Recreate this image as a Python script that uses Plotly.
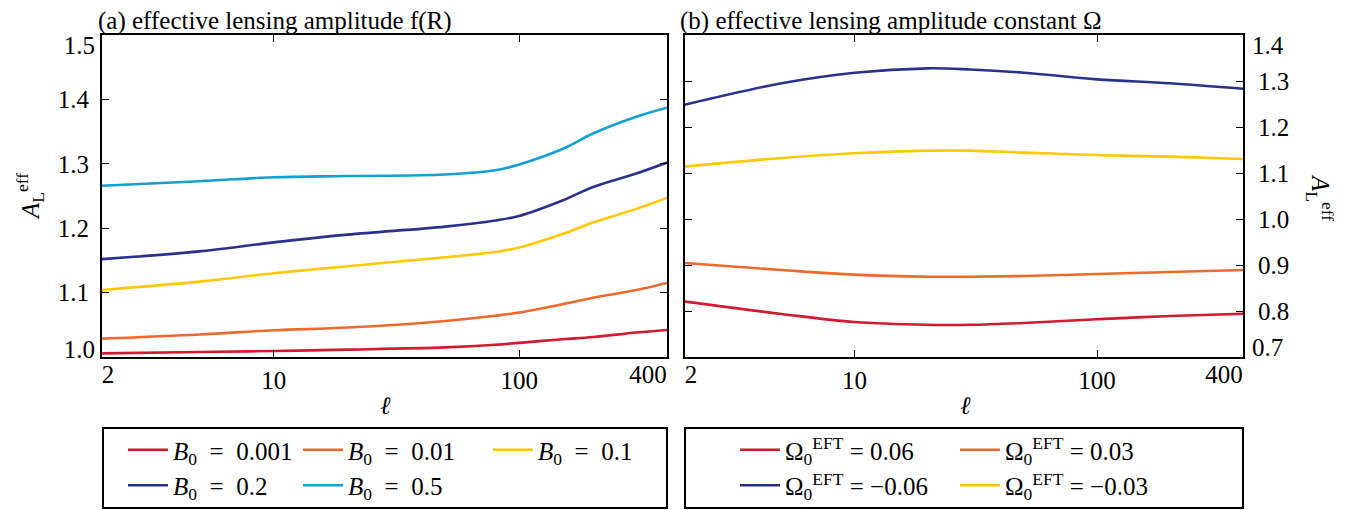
import math
import plotly.graph_objects as go

# ---------------- data ----------------
ell_a = [2, 5, 10, 20, 50, 80, 100, 150, 200, 300, 400]
fr_B0_0001 = [1.0057, 1.0078, 1.0093, 1.0114, 1.0150, 1.0190, 1.0220, 1.0275, 1.0310, 1.0380, 1.0420]
fr_B0_001 = [1.0286, 1.0350, 1.0415, 1.0457, 1.0560, 1.0640, 1.0690, 1.0820, 1.0920, 1.1040, 1.1150]
fr_B0_01 = [1.1040, 1.1170, 1.1300, 1.1410, 1.1550, 1.1630, 1.1700, 1.1910, 1.2090, 1.2300, 1.2470]
fr_B0_02 = [1.1520, 1.1640, 1.1780, 1.1900, 1.2025, 1.2120, 1.2190, 1.2430, 1.2640, 1.2850, 1.3020]
fr_B0_05 = [1.2660, 1.2730, 1.2790, 1.2810, 1.2835, 1.2900, 1.2990, 1.3230, 1.3470, 1.3730, 1.3870]

ell_b = [2, 5, 10, 20, 30, 50, 100, 200, 400]
om_p006 = [0.8203, 0.7935, 0.7760, 0.7700, 0.7700, 0.7740, 0.7820, 0.7890, 0.7940]
om_p003 = [0.9043, 0.8890, 0.8790, 0.8746, 0.8746, 0.8760, 0.8804, 0.8848, 0.8890]
om_m006 = [1.2486, 1.2950, 1.3180, 1.3275, 1.3250, 1.3180, 1.3036, 1.2950, 1.2830]
om_m003 = [1.1138, 1.1326, 1.1428, 1.1486, 1.1486, 1.1442, 1.1390, 1.1355, 1.1304]

x_tickvals = [2, 10, 100, 400]
x_ticktext = ["2", "10", "100", "400"]
ya_ticks = [1.0, 1.1, 1.2, 1.3, 1.4, 1.5]
yb_ticks = [0.7, 0.8, 0.9, 1.0, 1.1, 1.2, 1.3, 1.4]

RED, ORANGE, YELLOW, NAVY, CYAN = "#d2192f", "#ec6a2c", "#ffc800", "#28328c", "#139fd0"
FONT = "Liberation Serif"
FS = 25
W, H = 1353, 510
OFF = 8  # page body margin
SP = "\u2002"

fig = go.Figure()

series_a = [
    (fr_B0_0001, RED, "0.001", "legend"),
    (fr_B0_001, ORANGE, "0.01", "legend2"),
    (fr_B0_01, YELLOW, "0.1", "legend3"),
    (fr_B0_02, NAVY, "0.2", "legend"),
    (fr_B0_05, CYAN, "0.5", "legend2"),
]
for vals, col, lab, leg in series_a:
    fig.add_trace(go.Scatter(x=ell_a, y=vals, mode="lines",
                             name=f"<i>B</i><sub>0</sub>{SP}={SP}{lab}",
                             line=dict(color=col, width=2.6, shape="spline", smoothing=1.0),
                             xaxis="x", yaxis="y", legend=leg))

series_b = [
    (om_p006, RED, "0.06", "legend4"),
    (om_p003, ORANGE, "0.03", "legend5"),
    (om_m006, NAVY, "\u22120.06", "legend4"),
    (om_m003, YELLOW, "\u22120.03", "legend5"),
]
for vals, col, lab, leg in series_b:
    fig.add_trace(go.Scatter(x=ell_b, y=vals, mode="lines",
                             name=f"Ω<sub>0</sub><sup>EFT</sup> = {lab}",
                             line=dict(color=col, width=2.6, shape="spline", smoothing=1.0),
                             xaxis="x2", yaxis="y2", legend=leg))

# empty helper traces so that the edge-label axes are instantiated (they draw nothing)
for xa, ya in [("x3", "y"), ("x4", "y"), ("x5", "y2"), ("x6", "y2"),
               ("x", "y3"), ("x", "y4"), ("x2", "y5"), ("x2", "y6")]:
    fig.add_trace(go.Scatter(x=[], y=[], mode="lines", xaxis=xa, yaxis=ya,
                             showlegend=False, hoverinfo="skip"))

def px(x):
    return (x - OFF) / W

def py(y):
    return 1 - (y - OFF) / H

XR = [math.log10(ell_a[0]), math.log10(ell_a[-1])]
YRA = [ya_ticks[0], ya_ticks[-1]]
YRB = [yb_ticks[0], yb_ticks[-1]]
XDA = [px(102), px(667)]
XDB = [px(685), px(1243)]
YD = [py(357), py(35)]

tf = dict(family=FONT, size=FS, color="black")
axis_common = dict(showline=True, linecolor="black", linewidth=2, mirror="ticks",
                   ticks="inside", ticklen=7, tickwidth=1, tickcolor="black",
                   showgrid=False, zeroline=False, tickfont=tf)
edge_common = dict(showline=False, ticks="", showgrid=False, zeroline=False, tickfont=tf)

layout = dict(
    width=W, height=H,
    margin=dict(l=0, r=0, t=0, b=0, autoexpand=False),
    paper_bgcolor="white", plot_bgcolor="white",
    font=dict(family=FONT, color="black"),
    # main axes: interior tick labels
    xaxis=dict(type="log", domain=XDA, range=XR, tickvals=x_tickvals[1:-1],
               ticktext=x_ticktext[1:-1], anchor="y", **axis_common),
    yaxis=dict(domain=YD, range=YRA, tickvals=ya_ticks[1:-1], tickformat=".1f",
               anchor="x", ticklabelstandoff=6, **axis_common),
    xaxis2=dict(type="log", domain=XDB, range=XR, tickvals=x_tickvals[1:-1],
                ticktext=x_ticktext[1:-1], anchor="y2", **axis_common),
    yaxis2=dict(domain=YD, range=YRB, tickvals=yb_ticks[1:-1], tickformat=".1f",
                anchor="x2", side="right", ticklabelstandoff=8, **axis_common),
    # edge labels, nudged inward as in the original
    xaxis3=dict(type="log", overlaying="x", range=XR, anchor="y", side="bottom",
                tickvals=[x_tickvals[0]], ticktext=[x_ticktext[0]],
                ticklabelshift=6, **edge_common),
    xaxis4=dict(type="log", overlaying="x", range=XR, anchor="y", side="bottom",
                tickvals=[x_tickvals[-1]], ticktext=[x_ticktext[-1]],
                ticklabelshift=-19, **edge_common),
    xaxis5=dict(type="log", overlaying="x2", range=XR, anchor="y2", side="bottom",
                tickvals=[x_tickvals[0]], ticktext=[x_ticktext[0]],
                ticklabelshift=6, **edge_common),
    xaxis6=dict(type="log", overlaying="x2", range=XR, anchor="y2", side="bottom",
                tickvals=[x_tickvals[-1]], ticktext=[x_ticktext[-1]],
                ticklabelshift=-19, **edge_common),
    yaxis3=dict(overlaying="y", range=YRA, anchor="x", side="left",
                tickvals=[ya_ticks[-1]], tickformat=".1f", ticklabelstandoff=6,
                ticklabelshift=10, **edge_common),
    yaxis4=dict(overlaying="y", range=YRA, anchor="x", side="left",
                tickvals=[ya_ticks[0]], tickformat=".1f", ticklabelstandoff=6,
                ticklabelshift=-8, **edge_common),
    yaxis5=dict(overlaying="y2", range=YRB, anchor="x2", side="right",
                tickvals=[yb_ticks[-1]], tickformat=".1f", ticklabelstandoff=8,
                ticklabelshift=10, **edge_common),
    yaxis6=dict(overlaying="y2", range=YRB, anchor="x2", side="right",
                tickvals=[yb_ticks[0]], tickformat=".1f", ticklabelstandoff=8,
                ticklabelshift=-10, **edge_common),
    showlegend=True,
)

def leg(xpix):
    return dict(orientation="v", x=px(xpix), y=py(427), xanchor="left", yanchor="top",
                bgcolor="rgba(0,0,0,0)", borderwidth=0, itemwidth=40,
                font=dict(family=FONT, size=FS, color="black"))

layout.update(legend=leg(123), legend2=leg(298), legend3=leg(488),
              legend4=leg(735), legend5=leg(955))
fig.update_layout(**layout)

# legend frames
fig.add_shape(type="rect", xref="paper", yref="paper", x0=px(103), x1=px(667),
              y0=py(508), y1=py(428), line=dict(color="black", width=2))
fig.add_shape(type="rect", xref="paper", yref="paper", x0=px(685), x1=px(1243),
              y0=py(508), y1=py(428), line=dict(color="black", width=2))

ann = [
    dict(text="(a) effective lensing amplitude f(R)", x=px(96), y=py(5), xanchor="left",
         yanchor="top"),
    dict(text="(b) effective lensing amplitude constant Ω", x=px(678), y=py(5), xanchor="left",
         yanchor="top"),
    dict(text="<i>A</i><sub>L</sub><sup>eff</sup>", x=px(30), y=py(197), textangle=-90,
         xanchor="center", yanchor="middle"),
    dict(text="<i>A</i><sub>L</sub><sup>eff</sup>", x=px(1320), y=py(197), textangle=90,
         xanchor="center", yanchor="middle"),
    dict(text="<i>ℓ</i>", x=px(385), y=py(405), xanchor="center", yanchor="middle"),
    dict(text="<i>ℓ</i>", x=px(965), y=py(405), xanchor="center", yanchor="middle"),
]
for a in ann:
    a.update(xref="paper", yref="paper", showarrow=False,
             font=dict(family=FONT, size=FS, color="black"))
    fig.add_annotation(**a)

fig.write_html("out.html")
